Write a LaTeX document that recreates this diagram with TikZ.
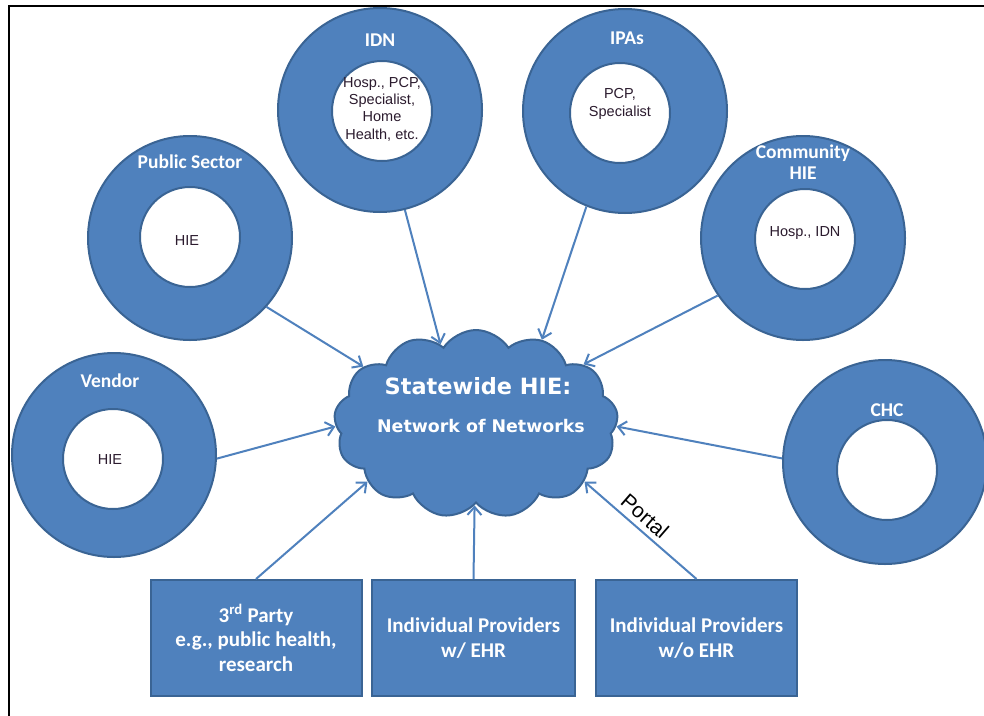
\documentclass[tikz,border=0pt]{standalone}
\usepackage{fontspec}
\usetikzlibrary{shapes.symbols,arrows.meta}
\newfontfamily\lblfont{Carlito}
\newfontfamily\armfont{Liberation Sans}
\newfontfamily\hubfont{DejaVu Sans}
\definecolor{ringfill}{HTML}{4F81BD}
\definecolor{ringedge}{HTML}{3A6494}
\definecolor{innertext}{HTML}{2B1B2E}
\begin{document}
\begin{tikzpicture}[x=1pt,y=-1pt,
  ring/.style={circle, draw=ringedge, fill=ringfill, line width=2pt, minimum size=204pt, inner sep=0pt},
  hole/.style={circle, draw=ringedge, fill=white, line width=2pt, minimum size=100pt, inner sep=0pt},
  ringlabel/.style={text=white, font=\lblfont\bfseries\fontsize{19.5}{20}\selectfont, align=center, inner sep=0pt},
  holetext/.style={text=innertext, font=\armfont\fontsize{14.5}{17.3}\selectfont, align=center, inner sep=0pt},
  boxnode/.style={rectangle, draw=ringedge, fill=ringfill, line width=2pt, minimum width=203pt, minimum height=116pt, inner sep=0pt,
    text=white, font=\lblfont\bfseries\fontsize{21}{24.5}\selectfont, align=center},
  link/.style={draw=ringfill, line width=2pt, -{Straight Barb[length=8pt,width=14pt,line width=2pt]}}
]
\useasboundingbox (0,0) rectangle (984,715);
\fill[white] (0,0) rectangle (984,715);

% frame lines
\draw[line width=2.5pt, line cap=rect] (9,715) -- (9,6) -- (984,6);

% central cloud
\node[cloud, cloud puffs=13, cloud puff arc=115, aspect=1.55, draw=ringedge, fill=ringfill, line width=2pt,
      minimum width=284pt, minimum height=188pt, inner sep=0pt] (hub) at (476,424) {};
\node[text=white, font=\hubfont\bfseries\fontsize{22.4}{24}\selectfont, inner sep=0pt] (hubtitle) at (478,386) {Statewide HIE:};
\node[text=white, font=\hubfont\bfseries\fontsize{17.4}{19}\selectfont, inner sep=0pt] (hubsub) at (481,426) {Network of Networks};

% rings
\node[ring] (idn) at (380,110) {};
\node[hole] (idnin) at (382,111) {};
\node[ringlabel] (idnlbl) at (380,40) {IDN};
\node[holetext] (idntxt) at (382,109) {Hosp., PCP,\\Specialist,\\Home\\Health, etc.};

\node[ring] (ipas) at (625,111) {};
\node[hole] (ipasin) at (620,113) {};
\node[ringlabel] (ipaslbl) at (627,38) {IPAs};
\node[holetext] (ipastxt) at (620,104) {PCP,\\Specialist};

\node[ring] (comm) at (803,238) {};
\node[hole] (commin) at (805,239) {};
\node[ringlabel, font=\lblfont\bfseries\fontsize{19.5}{20.5}\selectfont] (commlbl) at (803,162) {Community\\HIE};
\node[holetext] (commtxt) at (805,233) {Hosp., IDN};

\node[ring] (pub) at (190,238) {};
\node[hole] (pubin) at (190,237) {};
\node[ringlabel] (publbl) at (190,162) {Public Sector};
\node[holetext] (pubtxt) at (187,241) {HIE};

\node[ring] (vend) at (114,455) {};
\node[hole] (vendin) at (113,459) {};
\node[ringlabel] (vendlbl) at (110,381) {Vendor};
\node[holetext] (vendtxt) at (110,460) {HIE};

\node[ring] (chc) at (885,462) {};
\node[hole] (chcin) at (887,470) {};
\node[ringlabel] (chclbl) at (887,410) {CHC};

% boxes
\node[boxnode, minimum width=211pt] (third) at (256,638) {3\textsuperscript{rd} Party\\e.g., public health,\\research};
\node[boxnode] (ehr) at (473.5,638) {Individual Providers\\w/ EHR};
\node[boxnode, minimum width=201pt] (noehr) at (696.5,638) {Individual Providers\\w/o EHR};

% connectors into the hub
\draw[link] (idn.-76) -- (hub.114);
\draw[link] (ipas.-112) -- (hub.52);
\draw[link] (comm.-146) -- (hub.29);
\draw[link] (chc.178) -- (hub.-1);
\draw[link] (pub.-42) -- (hub.153);
\draw[link] (vend.-2) -- (hub.-179);
\draw[link] (third.north) -- (hub.-152);
\draw[link] (ehr.north) -- (hub.-91);
\draw[link] (noehr.north) -- node[pos=0.54, above, sloped, font=\armfont\fontsize{21}{22}\selectfont, inner sep=5pt] (portal) {Portal} (hub.-28);
\end{tikzpicture}
\end{document}
